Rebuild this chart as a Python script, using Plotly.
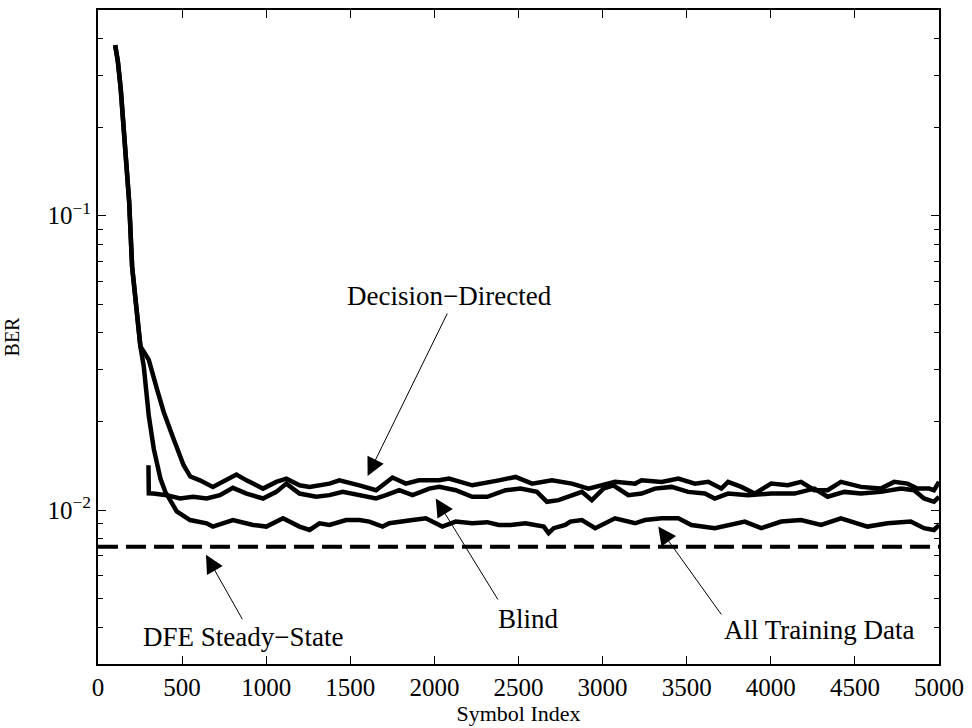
import math
import plotly.graph_objects as go

# ---------------- data ----------------
train_x = [102, 118, 135, 155, 185, 203, 229, 252, 272, 302, 332, 371, 400, 468, 547,
           646, 683, 802, 922, 1001, 1100, 1198, 1258, 1317, 1376, 1475, 1554, 1613, 1692,
           1732, 1870, 1949, 2047, 2127, 2225, 2314, 2383, 2453, 2541, 2650, 2679, 2709, 2778,
           2808, 2877, 2956, 3074, 3193, 3252, 3351, 3450, 3528, 3667, 3746, 3845, 3943, 4062,
           4180, 4299, 4417, 4575, 4694, 4832, 4911, 4970, 5000]
train_y = [0.380, 0.335, 0.270, 0.190, 0.112, 0.067, 0.0479, 0.036, 0.0308, 0.0209, 0.0161, 0.0128, 0.01153, 0.0099, 0.00925,
           0.00902, 0.00879, 0.00925, 0.00890, 0.00879, 0.00938, 0.00879, 0.00856, 0.00902, 0.00890, 0.00925, 0.00925, 0.00914, 0.00879,
           0.00902, 0.00925, 0.00938, 0.00879, 0.00914, 0.00902, 0.0091, 0.00890, 0.00890, 0.00902, 0.00879, 0.00835, 0.00868, 0.00890,
           0.00914, 0.00925, 0.00868, 0.00938, 0.00902, 0.00925, 0.00938, 0.00938, 0.00890, 0.00868, 0.00890, 0.00914, 0.00868, 0.00914,
           0.00925, 0.00890, 0.00938, 0.00879, 0.00902, 0.00914, 0.00868, 0.00856, 0.00890]

dd_x = [102, 118, 135, 155, 185, 203, 229, 252, 272, 302, 351, 391, 450, 509, 549,
        606, 683, 764, 823, 883, 981, 1060, 1120, 1198, 1258, 1376, 1435, 1554, 1653,
        1751, 1830, 1909, 2028, 2087, 2225, 2383, 2482, 2581, 2699, 2817, 2916, 3074, 3193,
        3232, 3351, 3450, 3549, 3628, 3706, 3746, 3825, 3904, 4002, 4101, 4180, 4259, 4338,
        4417, 4536, 4654, 4733, 4812, 4871, 4941, 4970, 5000]
dd_y = [0.380, 0.335, 0.270, 0.190, 0.112, 0.067, 0.0479, 0.036, 0.0345, 0.0324, 0.0257, 0.0215, 0.0174, 0.0142, 0.0130,
        0.01262, 0.01199, 0.01262, 0.0132, 0.01262, 0.01183, 0.01247, 0.01279, 0.01214, 0.01199, 0.01230, 0.01262, 0.01214, 0.01168,
        0.0129, 0.0123, 0.01262, 0.01262, 0.01279, 0.01214, 0.01262, 0.01296, 0.0123, 0.01262, 0.0123, 0.01183, 0.01247, 0.0123,
        0.01262, 0.01247, 0.01279, 0.0123, 0.01247, 0.01183, 0.01247, 0.01199, 0.01138, 0.0123, 0.01214, 0.01247, 0.01168, 0.01168,
        0.01247, 0.01199, 0.01183, 0.01247, 0.0123, 0.01183, 0.01183, 0.01168, 0.01247]

blind_x = [300, 302, 328, 409, 488, 565, 646, 725, 802, 883,
           981, 1060, 1120, 1198, 1297, 1376, 1455, 1554, 1653, 1712,
           1791, 1870, 1969, 2028, 2127, 2225, 2314, 2423, 2512, 2610,
           2669, 2738, 2877, 2936, 3005, 3064, 3153, 3232, 3311, 3410,
           3509, 3608, 3667, 3746, 3864, 4002, 4141, 4259, 4338, 4437,
           4536, 4654, 4773, 4852, 4911, 4970, 5000]
blind_y = [0.0142, 0.0114, 0.01138, 0.01124, 0.01095, 0.0111, 0.01095, 0.01124, 0.0119, 0.01138,
           0.01095, 0.01153, 0.0123, 0.01138, 0.0111, 0.01124, 0.01153, 0.01124, 0.01095, 0.01124,
           0.01168, 0.01124, 0.01183, 0.01199, 0.01168, 0.0111, 0.0111, 0.01168, 0.01183, 0.01153,
           0.01067, 0.01081, 0.01153, 0.01081, 0.01183, 0.01214, 0.01124, 0.01138, 0.01183, 0.01199,
           0.01153, 0.01138, 0.01095, 0.01138, 0.01124, 0.01138, 0.01138, 0.01183, 0.0111, 0.01153,
           0.01138, 0.01153, 0.01183, 0.01168, 0.01095, 0.01067, 0.0111]

dfe_x = [0, 5000]
dfe_y = [0.0075, 0.0075]

# annotation labels: text, centre x, centre y
label_text = ["Decision\u2212Directed", "Blind", "All Training Data", "DFE Steady\u2212State"]
label_x = [2087, 2559, 4288, 864]
label_y = [0.0533, 0.00428, 0.0039, 0.0037]
# arrows: tip (x, y), tail (x, y)
arrow_tip_x = [1603, 2008, 3331, 642]
arrow_tip_y = [0.01306, 0.01095, 0.00879, 0.00705]
arrow_tail_x = [2081, 2383, 3712, 863]
arrow_tail_y = [0.0471, 0.00491, 0.00437, 0.00421]

x_ticks = list(range(0, 5001, 500))
y_major = [0.01, 0.1]
y_major_text = ["10<sup>\u22122</sup>", "10<sup>\u22121</sup>"]
y_minor = [0.003, 0.004, 0.005, 0.006, 0.007, 0.008, 0.009,
           0.02, 0.03, 0.04, 0.05, 0.06, 0.07, 0.08, 0.09,
           0.2, 0.3, 0.4, 0.5]

FONT = "Liberation Serif, Times New Roman, serif"

fig = go.Figure()
line_style = dict(color="black", width=4.5)
fig.add_trace(go.Scatter(x=train_x, y=train_y, mode="lines", line=line_style, name="All Training Data"))
fig.add_trace(go.Scatter(x=dd_x, y=dd_y, mode="lines", line=line_style, name="Decision-Directed"))
fig.add_trace(go.Scatter(x=blind_x, y=blind_y, mode="lines", line=line_style, name="Blind"))
fig.add_trace(go.Scatter(x=dfe_x, y=dfe_y, mode="lines",
                         line=dict(color="black", width=4, dash="20px,8px"), name="DFE Steady-State"))

annotations = []
for t, x, y in zip(label_text, label_x, label_y):
    annotations.append(dict(x=x, y=math.log10(y), xref="x", yref="y", text=t, showarrow=False,
                            font=dict(family=FONT, size=27, color="black"),
                            xanchor="center", yanchor="middle"))
for tx, ty, sx, sy in zip(arrow_tip_x, arrow_tip_y, arrow_tail_x, arrow_tail_y):
    annotations.append(dict(x=tx, y=math.log10(ty), xref="x", yref="y",
                            ax=sx, ay=math.log10(sy), axref="x", ayref="y",
                            text="", showarrow=True, arrowhead=2, arrowsize=3.6,
                            arrowwidth=1, arrowcolor="black", standoff=0, startstandoff=0))

fig.update_layout(
    width=972, height=728,
    margin=dict(l=98, r=30, t=8, b=61),
    paper_bgcolor="white", plot_bgcolor="white",
    showlegend=False,
    font=dict(family=FONT, color="black", size=25),
    annotations=annotations,
)
fig.update_xaxes(
    range=[0, 5000], tickvals=x_ticks, ticks="inside", ticklen=8, tickwidth=1, tickcolor="black",
    showline=True, linecolor="black", linewidth=2, mirror="ticks", showgrid=False, zeroline=False,
    tickfont=dict(family=FONT, size=25, color="black"),
    title=dict(text="Symbol Index", font=dict(family=FONT, size=22, color="black"), standoff=4),
)
fig.update_yaxes(
    type="log", range=[math.log10(0.003), math.log10(0.5)],
    tickvals=y_major, ticktext=y_major_text, ticks="inside", ticklen=8, tickwidth=1, tickcolor="black",
    minor=dict(tickvals=y_minor, ticks="inside", ticklen=5, tickwidth=1, tickcolor="black", showgrid=False),
    showline=True, linecolor="black", linewidth=2, mirror="ticks", showgrid=False, zeroline=False,
    tickfont=dict(family=FONT, size=25, color="black"),
    title=dict(text="BER", font=dict(family=FONT, size=20, color="black"), standoff=22),
)

fig.write_html("out.html")
